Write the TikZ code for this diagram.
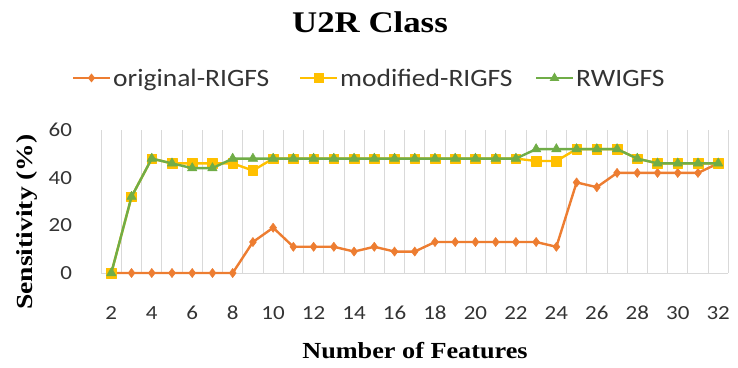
\documentclass[tikz,border=0pt]{standalone}
\usepackage{fontspec}
\setmainfont{Liberation Serif}
\newfontfamily\legendfont{Carlito}
\usetikzlibrary{plotmarks,calc}
\definecolor{origc}{HTML}{ED7D31}
\definecolor{modc}{HTML}{FFC000}
\definecolor{rwc}{HTML}{70AD47}
\definecolor{gridc}{HTML}{D9D9D9}
\tikzset{
  series/.style={line width=2.4pt, line join=round},
  ticklab/.style={font=\legendfont\fontsize{20}{22}\selectfont, text=black!80, xscale=1.15, inner sep=0pt},
  leglab/.style={font=\legendfont\fontsize{25}{28}\selectfont, text=black!80, xscale=1.1, inner sep=0pt, anchor=base west},
  axlab/.style={font=\bfseries\fontsize{23}{26}\selectfont, inner sep=0pt}
}
\begin{document}
\begin{tikzpicture}[x=1pt,y=1pt]
      \useasboundingbox (0,0) rectangle (738,367);
%
      \node[font=\bfseries\fontsize{30}{34}\selectfont, xscale=1.16, anchor=base, inner sep=0pt] (title) at (370,334) {U2R Class};
%
      % legend
      \coordinate (lo1) at (73,289);  \coordinate (lo2) at (110,289);
      \coordinate (lm1) at (300,289); \coordinate (lm2) at (337,289);
      \coordinate (lr1) at (536,289); \coordinate (lr2) at (573,289);
      \draw[series, origc] (lo1) -- (lo2);
      \draw[series, modc] (lm1) -- (lm2);
      \draw[series, rwc] (lr1) -- (lr2);
      \fill[origc] ($(lo1)!0.5!(lo2)$) ++(0,4.5) -- ++(3.6,-4.5) -- ++(-3.6,-4.5) -- ++(-3.6,4.5) -- cycle;
      \fill[modc] ($(lm1)!0.5!(lm2)$) ++(-5,-5) rectangle ++(10,10);
      \fill[rwc] ($(lr1)!0.5!(lr2)$) ++(0,5.5) -- ++(4.8,-8.3) -- ++(-9.6,0) -- cycle;
      \node[leglab] (lego) at (113,280) {original-RIGFS};
      \node[leglab] (legm) at (340,280) {modified-RIGFS};
      \node[leglab] (legr) at (576,280) {RWIGFS};
%
      \begin{scope}[shift={(70.84pt,94pt)}, x=20.23pt, y=2.383pt]
      % grid
      \foreach \g in {1.5,2.5,...,32.5}
        \draw[gridc, line width=0.8pt] (\g,0) -- (\g,60);
      \draw[gridc, line width=1pt] (1.5,0) -- (32.5,0);
%
      % ticks
      \foreach \v in {0,20,40,60}
        \node[ticklab, anchor=east] (yt\v) at ([xshift=-29pt]1.5,\v) {\v};
      \foreach \f in {2,4,...,32}
        \node[ticklab] (xt\f) at ([yshift=-40pt]\f,0) {\f};
%
      % series
      \draw[series, origc] plot[mark=diamond*, mark size=4.6pt, mark options={origc, line width=0.5pt}] coordinates {
        (2,0) (3,0) (4,0) (5,0) (6,0) (7,0) (8,0) (9,13) (10,19) (11,11) (12,11)
        (13,11) (14,9) (15,11) (16,9) (17,9) (18,13) (19,13) (20,13) (21,13) (22,13)
        (23,13) (24,11) (25,38) (26,36) (27,42) (28,42) (29,42) (30,42) (31,42) (32,46)};
      \draw[series, modc] plot[mark=square*, mark size=4.8pt, mark options={modc, line width=0.5pt}] coordinates {
        (2,0) (3,32) (4,48) (5,46) (6,46) (7,46) (8,46) (9,43) (10,48) (11,48) (12,48)
        (13,48) (14,48) (15,48) (16,48) (17,48) (18,48) (19,48) (20,48) (21,48) (22,48)
        (23,47) (24,47) (25,52) (26,52) (27,52) (28,48) (29,46) (30,46) (31,46) (32,46)};
      \draw[series, rwc] plot[mark=triangle*, mark size=5.5pt, mark options={rwc, line width=0.5pt}] coordinates {
        (2,0) (3,32) (4,48) (5,46) (6,44) (7,44) (8,48) (9,48) (10,48) (11,48) (12,48)
        (13,48) (14,48) (15,48) (16,48) (17,48) (18,48) (19,48) (20,48) (21,48) (22,48)
        (23,52) (24,52) (25,52) (26,52) (27,52) (28,48) (29,46) (30,46) (31,46) (32,46)};
      \end{scope}
%
      \node[axlab, xscale=1.14, anchor=base] (xlab) at (415,9) {Number of Features};
      \node[axlab, rotate=90, xscale=1.2] (ylab) at (27,145) {Sensitivity (\%)};
%
      \end{tikzpicture}
\end{document}
